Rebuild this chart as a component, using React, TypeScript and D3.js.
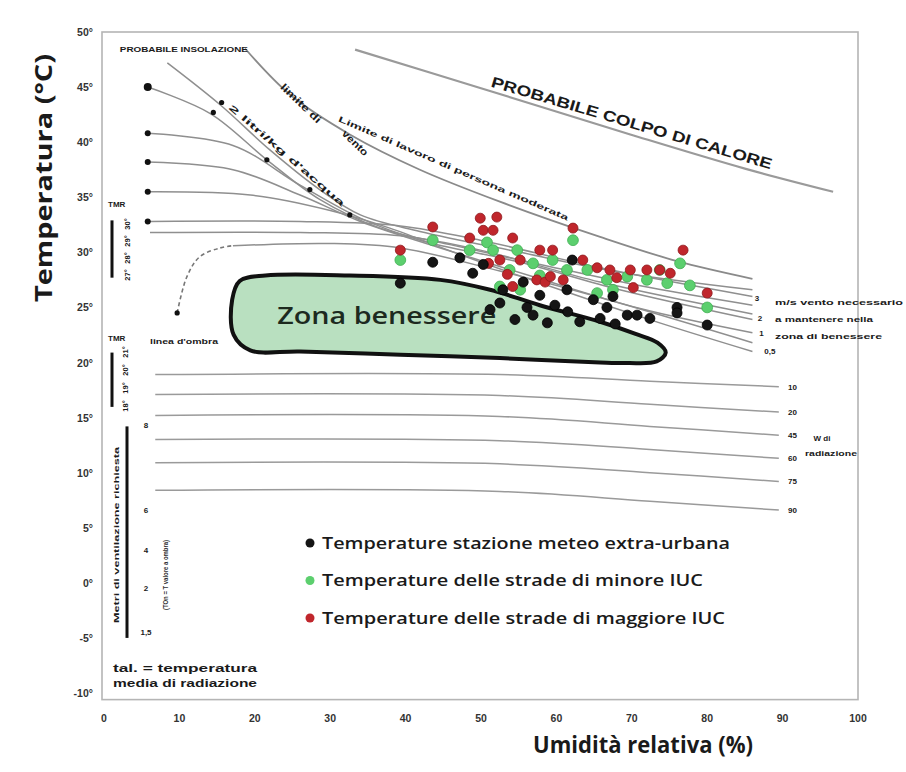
import React from "react";
import * as d3 from "d3";

const WIDTH = 906;
const HEIGHT = 772;

type P = [number, number]; // [relative humidity %, temperature °C]

const tempTicks = [50, 45, 40, 35, 30, 25, 20, 15, 10, 5, 0, -5, -10];
const humidityTicks = [0, 10, 20, 30, 40, 50, 60, 70, 80, 90, 100];

const stationPoints: P[] = [
  [39.3, 27.2], [43.6, 29.1], [47.2, 29.5], [48.9, 28.1], [50.3, 28.9], [51.2, 24.8],
  [52.9, 26.6], [52.5, 25.4], [54.5, 23.9], [55.6, 27.3], [56.1, 25.0], [56.9, 24.3],
  [57.8, 26.1], [58.8, 23.6], [59.8, 25.2], [61.4, 26.6], [61.5, 24.6], [62.1, 29.3],
  [63.1, 23.7], [64.9, 25.7], [65.8, 24.0], [66.7, 25.0], [67.5, 26.0], [67.8, 23.5],
  [69.4, 24.3], [70.7, 24.3], [72.4, 24.0], [76.0, 25.0], [76.0, 24.5], [80.0, 23.4],
];

const minorUhiPoints: P[] = [
  [39.3, 29.3], [43.6, 31.1], [48.5, 30.2], [50.8, 30.9], [51.6, 30.2], [52.5, 26.9],
  [53.8, 28.4], [54.8, 30.2], [55.2, 26.6], [56.9, 29.0], [57.8, 27.9], [59.5, 29.3],
  [61.4, 28.4], [62.2, 31.1], [64.1, 28.4], [65.4, 26.3], [66.7, 27.5], [67.5, 26.6],
  [69.4, 27.8], [72.0, 27.5], [73.7, 28.4], [74.7, 27.2], [76.4, 29.0], [77.7, 27.0],
  [80.0, 25.0],
];

const majorUhiPoints: P[] = [
  [39.3, 30.2], [43.6, 32.3], [48.5, 31.3], [49.9, 33.1], [50.3, 32.0], [51.0, 29.0],
  [51.6, 32.0], [52.1, 33.2], [52.5, 29.3], [53.5, 28.0], [54.2, 31.3], [54.2, 26.9],
  [55.2, 29.3], [57.4, 27.5], [57.8, 30.2], [58.5, 27.3], [59.2, 27.8], [59.5, 30.2],
  [60.9, 27.5], [62.2, 32.2], [63.5, 29.3], [65.4, 28.6], [67.1, 28.4], [68.0, 27.7],
  [69.8, 28.4], [70.2, 26.8], [72.0, 28.4], [73.7, 28.4], [75.1, 28.1], [76.8, 30.2],
  [80.0, 26.3],
];

const comfortZone: P[] = [
  [17.0, 25.7], [18.0, 27.4], [21.4, 27.9], [32.6, 27.9], [44.6, 27.5], [51.2, 26.6],
  [57.8, 25.2], [65.8, 23.7], [70.5, 22.6], [73.4, 21.8], [74.5, 20.9], [73.3, 20.1],
  [69.5, 19.95], [65.8, 20.0], [52.5, 20.4], [39.3, 20.7], [26.0, 21.0], [19.4, 21.1],
  [17.2, 22.5],
];

const heatStrokeLine: P[] = [[33.3, 48.4], [50, 44.9], [69.8, 40.7], [85, 37.6], [96.7, 35.5]];
const workLimitLine: P[] = [[18.7, 48.5], [24.7, 44.3], [32.6, 40.7], [41.9, 37.5], [52.5, 34.6], [65.8, 31.4], [76, 29.2], [86, 27.6]];
const windLineA: P[] = [[8.4, 47.2], [15.4, 43.4], [22.0, 39.3], [28.6, 35.7], [34.0, 33.4], [41.9, 31.9], [55.2, 30.0], [68.4, 28.2], [86, 26.6]];
const windLineB: P[] = [[5.8, 45.0], [14.1, 42.6], [21.6, 38.4], [28.6, 34.8], [36.6, 32.2], [45.9, 30.7], [59.2, 28.7], [72.4, 26.8], [86, 25.2]];
const windLineC: P[] = [[6.1, 32.8], [26.0, 32.8], [39.3, 32.4], [49.9, 31.1], [65.8, 28.6], [86, 26.0]];
const windLineD: P[] = [[5.8, 40.8], [17.1, 39.7], [26.0, 36.1], [34.0, 33.1], [41.9, 31.1], [55.2, 29.1], [68.4, 26.6], [86, 23.9]];
const windLineE: P[] = [[6.1, 31.8], [26.0, 31.8], [39.3, 31.5], [49.9, 30.2], [65.8, 27.3], [86, 24.4]];
const windLineF: P[] = [[5.8, 38.2], [17.1, 37.5], [26.0, 35.2], [34.0, 32.8], [44.6, 30.4], [57.8, 27.6], [71.1, 24.9], [86, 22.7]];
const windLineG: P[] = [[17.1, 30.6], [30.0, 30.8], [39.3, 30.4], [52.5, 28.3], [65.8, 25.9], [86, 21.8]];
const windLineH: P[] = [[5.8, 35.5], [19.4, 35.2], [30.0, 33.8], [37.9, 32.2], [47.2, 29.8], [60.5, 26.6], [73.7, 23.6], [86, 21.0]];
const shadeLine: P[] = [[9.7, 24.5], [11.0, 27.8], [12.7, 29.6], [15.4, 30.4], [17.1, 30.6]];

const radiationLine10: P[] = [[6.8, 18.9], [52.5, 18.9], [72.4, 18.3], [89.5, 17.8]];
const radiationLine20: P[] = [[6.8, 17.1], [52.5, 17.0], [72.4, 16.2], [89.5, 15.5]];
const radiationLine45: P[] = [[6.8, 15.2], [52.5, 15.1], [72.4, 14.2], [89.5, 13.4]];
const radiationLine60: P[] = [[6.8, 13.0], [52.5, 12.9], [72.4, 12.1], [89.5, 11.3]];
const radiationLine75: P[] = [[6.8, 10.9], [52.5, 10.8], [72.4, 10.0], [89.5, 9.2]];
const radiationLine90: P[] = [[6.8, 8.4], [52.5, 8.3], [72.4, 7.4], [89.5, 6.6]];
const radiationLabels = ["10", "20", "45", "60", "75", "90"];

const moistureMarks: P[] = [[5.8, 45.0], [5.8, 40.8], [5.8, 38.2], [5.8, 35.5], [5.8, 32.8]];
const lineMarks: P[] = [[15.6, 43.6], [14.5, 42.7], [21.6, 38.4], [27.3, 35.7], [32.6, 33.4], [9.7, 24.5]];

const windSpeedLabels = ["3", "2", "1", "0,5"];
const windSpeedPos: P[] = [[86.6, 25.9], [87.0, 24.0], [87.2, 22.7], [88.3, 21.0]];

const legendItems = [
  "Temperature stazione meteo extra-urbana",
  "Temperature delle strade di minore IUC",
  "Temperature delle strade di maggiore IUC",
];
const legendColors = ["#151515", "#5ccf6e", "#c0262c"];
const legendLengths = [408, 381, 403];

const tmrUpperLabels = ["30°", "29°", "28°", "27°"];
const tmrLowerLabels = ["21°", "20°", "19°", "18°"];
const ventLabels = ["8", "6", "4", "2", "1,5"];

const x = d3.scaleLinear().domain([0, 100]).range([104, 858]);
const y = d3.scaleLinear().domain([-10, 50]).range([693, 32]);

const lineGen = d3
  .line<P>()
  .x((d) => x(d[0]))
  .y((d) => y(d[1]))
  .curve(d3.curveCatmullRom.alpha(0.5));

const zoneGen = d3
  .line<P>()
  .x((d) => x(d[0]))
  .y((d) => y(d[1]))
  .curve(d3.curveCatmullRomClosed.alpha(0.5));

const BOLD = "'Liberation Sans', Arial, sans-serif";
const SANS = "'Open Sans', 'Noto Sans', sans-serif";

function RotText(props: {
  rh: number;
  t: number;
  angle: number;
  text: string;
  size: number;
  len?: number;
  anchor?: string;
  family?: string;
  weight?: number | string;
}) {
  const { rh, t, angle, text, size, len, anchor = "middle", family = BOLD, weight = 700 } = props;
  return (
    <text
      transform={`translate(${x(rh)},${y(t)}) rotate(${angle})`}
      textAnchor={anchor}
      fontSize={size}
      fontFamily={family}
      fontWeight={weight}
      fill="#1a1a1a"
      textLength={len}
      lengthAdjust={len ? "spacingAndGlyphs" : undefined}
    >
      {text}
    </text>
  );
}

export default function App() {
  const windLines = [windLineA, windLineB, windLineC, windLineD, windLineE, windLineF, windLineG, windLineH];
  const radiationLines = [radiationLine10, radiationLine20, radiationLine45, radiationLine60, radiationLine75, radiationLine90];
  const series: [P[], string, string][] = [
    [minorUhiPoints, legendColors[1], "#3fae52"],
    [majorUhiPoints, legendColors[2], "#8e1a1e"],
    [stationPoints, legendColors[0], "#000"],
  ];
  return (
    <svg
      width={WIDTH}
      height={HEIGHT}
      style={{ position: "absolute", left: 0, top: 0, background: "#fff" }}
    >
      <rect x={0} y={0} width={WIDTH} height={HEIGHT} fill="#fff" />
      {/* frame */}
      <rect
        x={x(0) - 2}
        y={y(50)}
        width={x(100) - x(0) + 2}
        height={y(-10.6) - y(50)}
        fill="none"
        stroke="#b5b5b5"
        strokeWidth={1.6}
      />

      {/* y ticks */}
      {tempTicks.map((t) => (
        <text key={t} x={93} y={y(t) + 4} textAnchor="end" fontSize={10.5} fontFamily={BOLD} fontWeight={700} fill="#333">
          {t}°
        </text>
      ))}
      {/* x ticks */}
      {humidityTicks.map((h) => (
        <text key={h} x={x(h)} y={722} textAnchor="middle" fontSize={10.5} fontFamily={BOLD} fontWeight={700} fill="#333">
          {h}
        </text>
      ))}
      <text
        transform={`translate(52,${178}) rotate(-90)`}
        textAnchor="middle"
        fontSize={24}
        fontFamily={SANS}
        fontWeight={700}
        fill="#1a1a1a"
        textLength={248}
        lengthAdjust="spacingAndGlyphs"
      >
        Temperatura (°C)
      </text>
      <text
        x={643}
        y={753}
        textAnchor="middle"
        fontSize={23}
        fontFamily={SANS}
        fontWeight={700}
        fill="#1a1a1a"
        textLength={220}
        lengthAdjust="spacingAndGlyphs"
      >
        Umidità relativa (%)
      </text>

      {/* radiation lines */}
      {radiationLines.map((l, i) => (
        <g key={i}>
          <path d={lineGen(l) || ""} fill="none" stroke="#9a9a9a" strokeWidth={1.5} />
          <text x={x(91.3)} y={y(l[l.length - 1][1]) + 3} textAnchor="middle" fontSize={8} fontFamily={BOLD} fontWeight={700} fill="#1a1a1a">
            {radiationLabels[i]}
          </text>
        </g>
      ))}

      {/* comfort zone */}
      <path d={zoneGen(comfortZone) || ""} fill="#b9e0c0" stroke="#111" strokeWidth={4} />
      <text x={x(37.5)} y={y(23.5)} textAnchor="middle" fontSize={24} fontFamily={SANS} fontWeight={600} fill="#1d2a1f" textLength={219} lengthAdjust="spacingAndGlyphs">
        Zona benessere
      </text>

      {/* heat stroke, limits, wind lines */}
      <path d={lineGen(heatStrokeLine) || ""} fill="none" stroke="#9a9a9a" strokeWidth={2.2} />
      <path d={lineGen(workLimitLine) || ""} fill="none" stroke="#8a8a8a" strokeWidth={1.8} />
      {windLines.map((l, i) => (
        <path key={i} d={lineGen(l) || ""} fill="none" stroke="#8f8f8f" strokeWidth={1.5} />
      ))}
      <path d={lineGen(shadeLine) || ""} fill="none" stroke="#777" strokeWidth={1.6} strokeDasharray="4 3" />

      {moistureMarks.map((d, i) => (
        <circle key={i} cx={x(d[0])} cy={y(d[1])} r={i === 0 ? 4 : 3} fill="#111" />
      ))}
      {lineMarks.map((d, i) => (
        <circle key={i} cx={x(d[0])} cy={y(d[1])} r={2.6} fill="#111" />
      ))}

      {/* annotations */}
      <RotText rh={2.1} t={48.2} angle={0} text="PROBABILE INSOLAZIONE" size={8} len={128} anchor="start" />
      <RotText rh={69.8} t={41.3} angle={16.5} text="PROBABILE COLPO DI CALORE" size={15} len={292} />
      <RotText rh={46.2} t={37.4} angle={23.5} text="Limite di lavoro di persona moderata" size={8} len={250} />
      <RotText rh={25.8} t={43.3} angle={44} text="limite di" size={10} len={52} />
      <RotText rh={33.0} t={39.7} angle={44} text="vento" size={10} len={32} />
      <RotText rh={24.0} t={38.6} angle={41} text="2 litri/kg  d'acqua" size={8.5} len={150} />
      <RotText rh={6.1} t={21.7} angle={0} text="linea d'ombra" size={8} len={68} anchor="start" />

      {/* wind speed labels */}
      {windSpeedLabels.map((s, i) => (
        <text key={s} x={x(windSpeedPos[i][0])} y={y(windSpeedPos[i][1]) + 3} textAnchor="middle" fontSize={8} fontFamily={BOLD} fontWeight={700} fill="#1a1a1a">
          {s}
        </text>
      ))}
      <text x={775} y={305} fontSize={8} fontFamily={BOLD} fontWeight={700} fill="#1a1a1a" textLength={128} lengthAdjust="spacingAndGlyphs">
        m/s vento necessario
      </text>
      <text x={775} y={322} fontSize={8} fontFamily={BOLD} fontWeight={700} fill="#1a1a1a" textLength={98} lengthAdjust="spacingAndGlyphs">
        a mantenere nella
      </text>
      <text x={775} y={339} fontSize={8} fontFamily={BOLD} fontWeight={700} fill="#1a1a1a" textLength={107} lengthAdjust="spacingAndGlyphs">
        zona di benessere
      </text>
      <text x={822} y={441} textAnchor="middle" fontSize={8} fontFamily={BOLD} fontWeight={700} fill="#1a1a1a">
        W di
      </text>
      <text x={831} y={456} textAnchor="middle" fontSize={8} fontFamily={BOLD} fontWeight={700} fill="#1a1a1a" textLength={52} lengthAdjust="spacingAndGlyphs">
        radiazione
      </text>

      {/* left scales */}
      <text x={108} y={207} fontSize={8} fontFamily={BOLD} fontWeight={700} fill="#1a1a1a">TMR</text>
      <line x1={112} x2={112} y1={y(32.9)} y2={y(27.7)} stroke="#111" strokeWidth={3} />
      {tmrUpperLabels.map((s, i) => (
        <text key={s} transform={`translate(${130},${224 + i * 17}) rotate(-90)`} textAnchor="middle" fontSize={7.5} fontFamily={BOLD} fontWeight={700} fill="#1a1a1a">
          {s}
        </text>
      ))}
      <text x={108} y={341} fontSize={8} fontFamily={BOLD} fontWeight={700} fill="#1a1a1a">TMR</text>
      <line x1={112} x2={112} y1={y(20.9)} y2={y(15.97)} stroke="#111" strokeWidth={3} />
      {tmrLowerLabels.map((s, i) => (
        <text key={s} transform={`translate(${128},${352 + i * 18}) rotate(-90)`} textAnchor="middle" fontSize={7.5} fontFamily={BOLD} fontWeight={700} fill="#1a1a1a">
          {s}
        </text>
      ))}
      <line x1={127} x2={127} y1={y(14.2)} y2={y(-5.0)} stroke="#111" strokeWidth={3} />
      <text transform={`translate(119,535) rotate(-90)`} textAnchor="middle" fontSize={8} fontFamily={BOLD} fontWeight={700} fill="#1a1a1a" textLength={176} lengthAdjust="spacingAndGlyphs">
        Metri di ventilazione richiesta
      </text>
      {ventLabels.map((s, i) => (
        <text key={s} x={146} y={[428, 513, 553, 591, 635][i]} textAnchor="middle" fontSize={8} fontFamily={BOLD} fontWeight={700} fill="#1a1a1a">
          {s}
        </text>
      ))}
      <text transform={`translate(168,575) rotate(-90)`} textAnchor="middle" fontSize={7} fontFamily={BOLD} fontWeight={700} fill="#333" textLength={70} lengthAdjust="spacingAndGlyphs">
        (TOn = T valore a ombra)
      </text>
      <text x={113} y={672} fontSize={10} fontFamily={BOLD} fontWeight={700} fill="#1a1a1a" textLength={144} lengthAdjust="spacingAndGlyphs">
        tal.  =  temperatura
      </text>
      <text x={113} y={687} fontSize={10} fontFamily={BOLD} fontWeight={700} fill="#1a1a1a" textLength={144} lengthAdjust="spacingAndGlyphs">
        media di radiazione
      </text>

      {/* observations */}
      {series.map(([pts, fill, stroke], si) => (
        <g key={si}>
          {pts.map((d, i) => (
            <circle key={i} cx={x(d[0])} cy={y(d[1])} r={si === 0 ? 5.4 : 5} fill={fill} stroke={stroke} strokeWidth={0.8} />
          ))}
        </g>
      ))}

      {/* legend */}
      {legendItems.map((label, i) => (
        <g key={label} transform={`translate(310,${543 + i * 37.5})`}>
          <circle cx={0} cy={0} r={4.5} fill={legendColors[i]} />
          <text x={12} y={5.5} fontSize={15.5} fontFamily={SANS} fontWeight={600} fill="#1a1a1a" textLength={legendLengths[i]} lengthAdjust="spacingAndGlyphs">
            {label}
          </text>
        </g>
      ))}
    </svg>
  );
}
